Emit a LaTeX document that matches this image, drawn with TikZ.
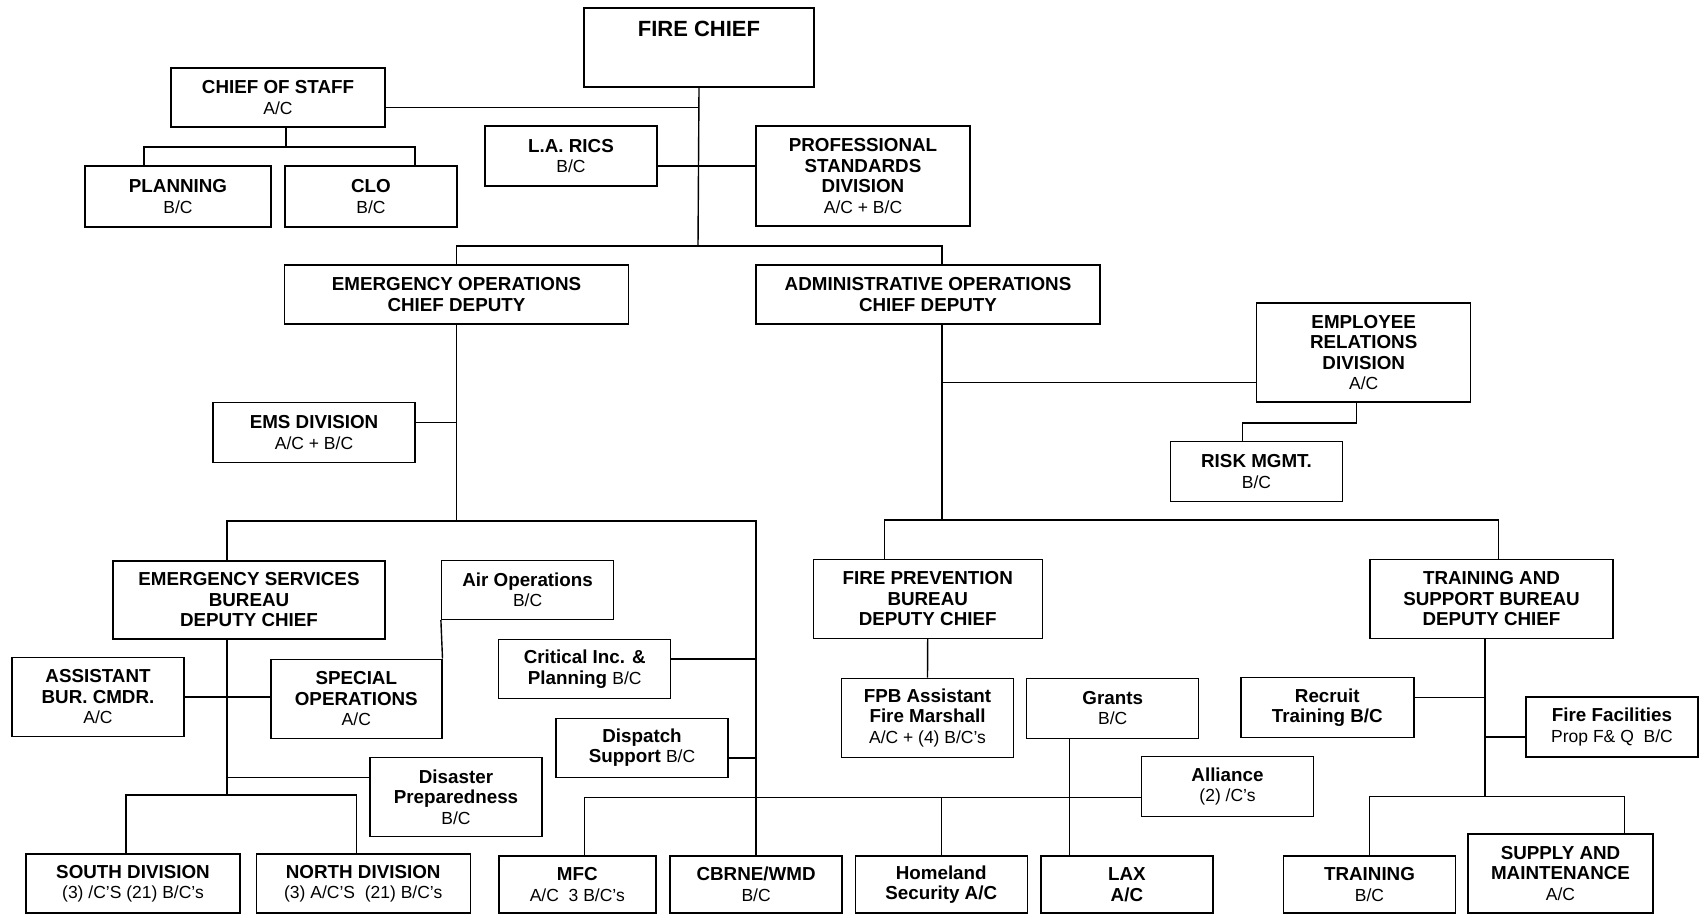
\documentclass[tikz,border=0pt]{standalone}
\usepackage{fontspec}
\setmainfont{Liberation Sans}
\usepackage{tikz}
\usetikzlibrary{positioning,calc}
\newcommand{\rnk}{\mdseries\fontsize{17.5}{20.5}\selectfont}

\begin{document}
\begin{tikzpicture}[x=1pt, y=-1pt, line width=1.4pt,
      font=\fontsize{18.8}{20.5}\selectfont\bfseries,
      unit/.style={draw, minimum width=172pt, minimum height=60pt, align=center, inner sep=1pt}]
    \useasboundingbox (0,0) rectangle (1699,915);

    % top level
    \node[unit, minimum width=230pt, inner ysep=0pt, text height=29pt, text depth=50pt,
      font=\fontsize{22}{26}\selectfont\bfseries] (chief) at (699,47.5) {FIRE CHIEF};
    \node[unit, minimum width=214pt, minimum height=59pt] (cos) at (278,97.5) {CHIEF OF STAFF \\ \rnk A/C};
    \node[unit, minimum width=186pt, minimum height=61pt] (planning) at (178,196.5) {PLANNING \\ \rnk B/C};
    \node[unit, minimum height=61pt] (clo) at (371,196.5) {CLO \\ \rnk B/C};
    \node[unit] (larics) at (571,156) {L.A. RICS \\ \rnk B/C};
    \node[unit, minimum width=214pt, minimum height=100pt] (psd) at (863,176)
      {PROFESSIONAL \\ STANDARDS \\ DIVISION \\ \rnk A/C + B/C};

    \node[unit, minimum width=344pt, minimum height=59pt] (eocd) at (456.5,294.5)
      {EMERGENCY OPERATIONS \\ CHIEF DEPUTY};
    \node[unit, minimum width=344pt, minimum height=59pt] (aocd) at (928,294.5)
      {ADMINISTRATIVE OPERATIONS \\ CHIEF DEPUTY};

    % emergency side
    \node[unit, minimum width=202pt] (ems) at (314,432.7) {EMS DIVISION \\ \rnk A/C + B/C};
    \node[unit, minimum width=272pt, minimum height=78pt] (esb) at (249,600)
      {EMERGENCY SERVICES \\ BUREAU \\ DEPUTY CHIEF};
    \node[unit, minimum height=59pt] (airops) at (527.6,590) {Air Operations \\ \rnk B/C};
    \node[unit, minimum height=79pt] (asst) at (98,697) {ASSISTANT \\ BUR. CMDR. \\ \rnk A/C};
    \node[unit, minimum width=171pt, minimum height=79pt] (specops) at (356.3,698.7)
      {SPECIAL \\ OPERATIONS \\ \rnk A/C};
    \node[unit, minimum height=59pt] (critinc) at (584.7,669) {Critical Inc. \& \\ Planning \rnk B/C};
    \node[unit, minimum height=59pt] (dispatch) at (642,747.8) {Dispatch \\ Support \rnk B/C};
    \node[unit, minimum height=79pt] (disaster) at (456,797.2) {Disaster \\ Preparedness \\ \rnk B/C};
    \node[unit, minimum width=214pt, minimum height=59pt] (south) at (133,883.5)
      {SOUTH DIVISION \\ \rnk (3) /C'S (21) B/C's};
    \node[unit, minimum width=214pt, minimum height=59pt] (north) at (363.2,883.5)
      {NORTH DIVISION \\ \rnk (3) A/C'S~~(21) B/C's};
    \node[unit, minimum width=157pt, minimum height=57pt] (mfc) at (577.3,884.5) {MFC \\ \rnk A/C~~3 B/C's};
    \node[unit, minimum height=57pt] (cbrne) at (756.1,884.5) {CBRNE/WMD \\ \rnk B/C};

    % administrative side
    \node[unit, minimum width=214pt, minimum height=99pt] (erd) at (1363.7,352.6)
      {EMPLOYEE \\ RELATIONS \\ DIVISION \\ \rnk A/C};
    \node[unit] (risk) at (1256.5,471.7) {RISK MGMT. \\ \rnk B/C};
    \node[unit, minimum width=229pt, minimum height=79pt] (fpb) at (927.7,598.8)
      {FIRE PREVENTION \\ BUREAU \\ DEPUTY CHIEF};
    \node[unit, minimum width=243pt, minimum height=79pt] (tsb) at (1491.5,598.7)
      {TRAINING AND \\ SUPPORT BUREAU \\ DEPUTY CHIEF};
    \node[unit, minimum height=79pt] (fpbasst) at (927.5,717.8)
      {FPB Assistant \\ Fire Marshall \\ \rnk A/C + (4) B/C's};
    \node[unit] (grants) at (1112.7,708.2) {Grants \\ \rnk B/C};
    \node[unit] (alliance) at (1227.5,786.7) {Alliance \\ \rnk (2) /C's};
    \node[unit, minimum width=173pt] (recruit) at (1327.3,707.7) {Recruit \\ Training B/C};
    \node[unit] (firefac) at (1612,726.8) {Fire Facilities \\ \rnk Prop F\& Q~~B/C};
    \node[unit, minimum height=57pt] (homeland) at (941.2,884.5) {Homeland \\ Security A/C};
    \node[unit, minimum height=57pt] (lax) at (1126.9,884.5) {LAX \\ A/C};
    \node[unit, minimum height=57pt] (training) at (1369.5,884.3) {TRAINING \\ \rnk B/C};
    \node[unit, minimum width=185pt, minimum height=79pt] (supply) at (1560.5,873.5)
      {SUPPLY AND \\ MAINTENANCE \\ \rnk A/C};

    \coordinate (hq) at (698,246);
    \coordinate (cosj) at (286,147);
    \coordinate (eoj) at (456.5,521);
    \coordinate (esj) at (227,795);
    \coordinate (aoj) at (942,520);
    \coordinate (tsj) at (1485,796.7);
    \coordinate (alj) at ([yshift=-10.5pt]alliance.west);

    \draw (chief.south) -- (hq);
    \draw ([yshift=-10pt]cos.east) -- ([yshift=-10pt]cos.east -| hq);
    \draw (cosj |- cos.south) -- (cosj);
    \draw ([xshift=-34pt]planning.north) |- (cosj) -| ([xshift=44pt]clo.north);
    \draw ([yshift=-10pt]larics.east) -- ([yshift=-10pt]larics.east -| psd.west);
    \draw (eocd.north) |- (hq) -| ([xshift=14pt]aocd.north);

    \draw (eocd.south) -- (eoj);
    \draw ([yshift=10pt]ems.east) -- ([yshift=10pt]ems.east -| eoj);
    \draw ([xshift=-22pt]esb.north) |- (eoj) -| (cbrne.north);
    \draw (airops.south west) -- (specops.north east);
    \draw ([yshift=10pt]critinc.east) -- ([yshift=10pt]critinc.east -| cbrne.north);
    \draw ([yshift=-10pt]dispatch.east) -- ([yshift=-10pt]dispatch.east -| cbrne.north);
    \draw (esj |- esb.south) -- (esj);
    \draw (asst.east) -- (asst.east -| specops.west);
    \draw ([yshift=20pt]disaster.west) -- ([yshift=20pt]disaster.west -| esj);
    \draw ([xshift=-7pt]south.north) |- (esj) -| ([xshift=-7pt]north.north);
    \draw ([xshift=7pt]mfc.north) |- (alj);
    \draw (homeland.north) -- (homeland.north |- alj);
    \draw ([xshift=-43pt]grants.south) -- ([xshift=-43pt]grants.south |- lax.north);

    \draw ([xshift=14pt]aocd.south) -- (aoj);
    \draw ([yshift=-30pt]erd.west) -- ([yshift=-30pt]erd.west -| aoj);
    \draw ([xshift=-7pt]erd.south) -- ++(0,20) -| ([xshift=-14pt]risk.north);
    \draw ([xshift=-43pt]fpb.north) |- (aoj) -| ([xshift=7pt]tsb.north);
    \draw (fpb.south) -- (fpbasst.north);
    \draw (tsj |- tsb.south) -- (tsj);
    \draw ([yshift=10pt]recruit.east) -- ([yshift=10pt]recruit.east -| tsj);
    \draw ([yshift=-10pt]firefac.west) -- ([yshift=-10pt]firefac.west -| tsj);
    \draw (training.north) |- (tsj) -| ([xshift=64pt]supply.north);
  \end{tikzpicture}
\end{document}
